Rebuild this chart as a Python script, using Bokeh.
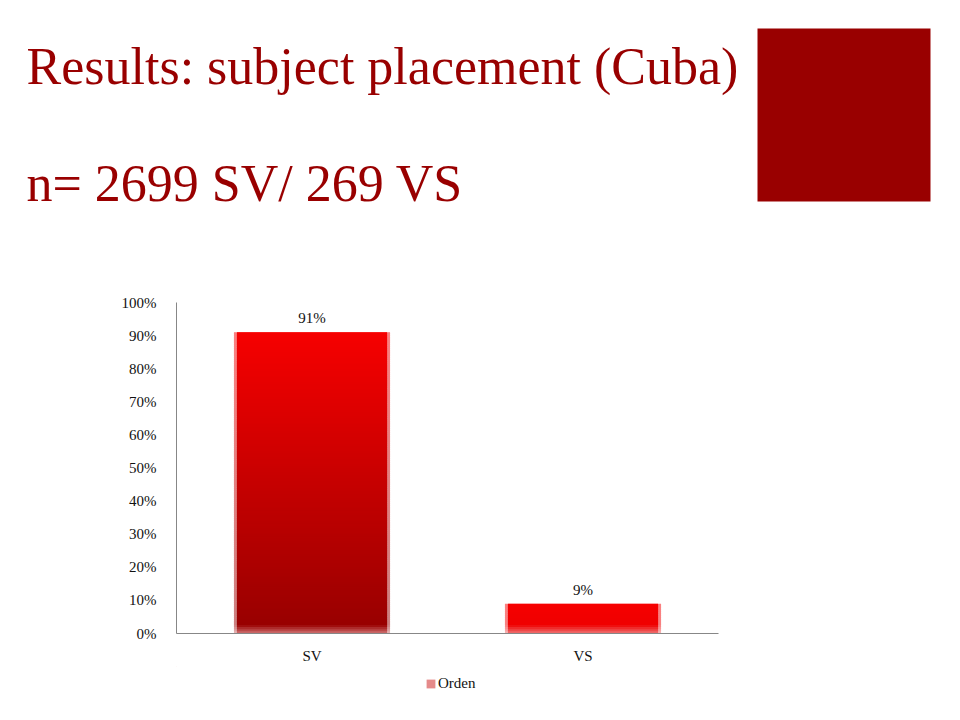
from bokeh.plotting import figure
from bokeh.layouts import column
from bokeh.models import (Range1d, FactorRange, FixedTicker, NumeralTickFormatter,
                          LabelSet, ColumnDataSource, Legend, LegendItem)
from bokeh.core.properties import value
from bokeh.embed import file_html
from bokeh.resources import INLINE

# ---- data ----
categories = ["SV", "VS"]
shares = [0.91, 0.09]
share_labels = ["91%", "9%"]
y_ticks = [0.0, 0.1, 0.2, 0.3, 0.4, 0.5, 0.6, 0.7, 0.8, 0.9, 1.0]
series_name = "Orden"
title_line1 = "Results: subject placement (Cuba)"
title_line2 = "n= 2699 SV/ 269 VS"

# ---- style ----
W = 944
TITLE_H, CHART_H, LEG_H = 280, 386, 38
TITLE_RED = "#990000"
SERIF = "Liberation Serif"
TOP_RGB = (246, 0, 0)
BOT_RGB = (150, 0, 0)
BAR_W = 0.576
N_SLICES = 140


def blank_fig(h):
    f = figure(width=W, height=h, x_range=Range1d(0, W), y_range=Range1d(h, 0),
               output_backend="svg", toolbar_location=None, min_border=0,
               x_axis_type=None, y_axis_type=None)
    f.outline_line_color = None
    f.xgrid.grid_line_color = None
    f.ygrid.grid_line_color = None
    return f


# ---- slide title ----
t = blank_fig(TITLE_H)
t.text(x=[26, 26], y=[66, 183], text=[title_line1, title_line2],
       text_font=value(SERIF), text_font_size=value("52px"), text_color=TITLE_RED,
       text_baseline="alphabetic", text_align="left")
t.quad(left=[757], right=[930], top=[28], bottom=[201], fill_color=TITLE_RED, line_color=None)

# ---- chart ----
p = figure(width=W, height=CHART_H, x_range=FactorRange(*categories), y_range=Range1d(0, 1),
           output_backend="svg", toolbar_location=None,
           min_border_left=176, min_border_right=226, min_border_top=22, min_border_bottom=30)
p.outline_line_color = None
p.xgrid.grid_line_color = None
p.ygrid.grid_line_color = None


def blend(c, w, k):
    return tuple(ci + (wi - ci) * k for ci, wi in zip(c, w))


def hexc(c):
    return "#%02x%02x%02x" % tuple(int(round(max(0, min(255, x)))) for x in c)


maxv = max(shares)
xs, bots, tops, cols, ocols = [], [], [], [], []
fade = 0.026
for cat, v in zip(categories, shares):
    n = max(14, int(N_SLICES * v / maxv))
    step = v / n
    for i in range(n):
        t0 = step * i
        t1 = step * (i + 1)
        yc = (t0 + t1) / 2
        d = (v - yc) / maxv
        c = blend(TOP_RGB, BOT_RGB, d)
        if yc < fade:
            c = blend(c, (240, 175, 175), (1 - yc / fade) * 0.65)
        xs.append(cat)
        bots.append(t0)
        tops.append(t1 + (step * 0.8 if i < n - 1 else 0))
        cols.append(hexc(c))
        ocols.append(hexc(blend(c, (255, 255, 255), 0.5)))

src = ColumnDataSource(dict(x=xs, bottom=bots, top=tops, color=cols, ocolor=ocols))
p.vbar(x="x", bottom="bottom", top="top", width=BAR_W, fill_color="ocolor",
       line_color=None, source=src)
p.vbar(x="x", bottom="bottom", top="top", width=BAR_W - 0.022, fill_color="color",
       line_color=None, source=src)

lab_src = ColumnDataSource(dict(x=categories, y=shares, t=share_labels))
p.add_layout(LabelSet(x="x", y="y", text="t", source=lab_src, y_offset=9,
                      text_align="center", text_baseline="alphabetic",
                      text_font=SERIF, text_font_size="15px", text_color="#111111"))

p.yaxis.ticker = FixedTicker(ticks=y_ticks)
p.yaxis.formatter = NumeralTickFormatter(format="0%")
for ax in (p.xaxis[0], p.yaxis[0]):
    ax.axis_line_color = "#878787"
    ax.major_tick_line_color = None
    ax.minor_tick_line_color = None
    ax.major_label_text_font = SERIF
    ax.major_label_text_font_size = "15px"
    ax.major_label_text_color = "#111111"
p.yaxis.major_label_standoff = 14
p.xaxis.major_label_standoff = 8

# ---- legend strip (frame aligned with the chart frame) ----
lg = blank_fig(LEG_H)
# legend proxy: one bar placed outside the visible range so only its legend swatch shows
dummy = lg.vbar(x=[-100], bottom=[-100], top=[-90], width=1, fill_color="#e58a8a",
                line_color=None)
legend = Legend(items=[LegendItem(label=series_name, renderers=[dummy])],
                orientation="horizontal", location=(249, 12),
                label_text_font=SERIF, label_text_font_size="15px", label_text_color="#111111",
                glyph_width=11, glyph_height=11, label_height=11, label_standoff=2,
                padding=0, margin=0, spacing=0,
                border_line_color=None, background_fill_alpha=0)
lg.add_layout(legend)

layout = column(column(t), column(p, lg, spacing=0), spacing=0)
open("out.html", "w").write(file_html(layout, INLINE))
